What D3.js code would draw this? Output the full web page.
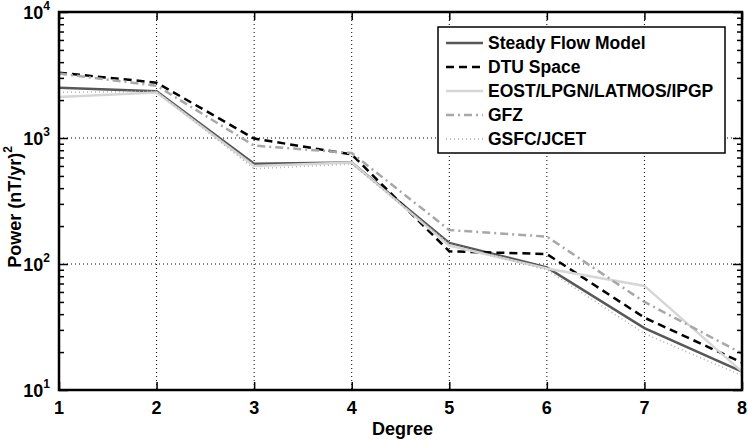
<!DOCTYPE html>
<html>
<head>
<meta charset="utf-8">
<script src="https://cdn.jsdelivr.net/npm/d3@7"></script>
<style>
  body { margin: 0; background: #fff; }
  svg { display: block; font-family: "Liberation Sans", Arial, Helvetica, sans-serif; font-weight: bold; }
</style>
</head>
<body>
<svg id="chart" width="748" height="440"></svg>
<script>
// spectra per degree
const degrees = [1, 2, 3, 4, 5, 6, 7, 8];
const steadyFlow = [2500, 2350, 625, 640, 147, 94, 31, 14];
const dtuSpace = [3300, 2750, 990, 740, 126, 120, 37.5, 16.5];
const eost = [2120, 2300, 600, 640, 140, 92, 67, 14];
const gfz = [3250, 2600, 870, 760, 186, 165, 50, 19.5];
const gsfc = [2300, 2350, 570, 620, 145, 90, 28, 13];

const seriesNames = ['Steady Flow Model', 'DTU Space', 'EOST/LPGN/LATMOS/IPGP', 'GFZ', 'GSFC/JCET'];
const seriesValues = [steadyFlow, dtuSpace, eost, gfz, gsfc];
const yMajor = [10, 100, 1000, 10000];

const STYLE = [
  { stroke: '#575757', width: 2.5, dash: null },
  { stroke: '#000000', width: 2.5, dash: '8,5' },
  { stroke: '#d6d6d6', width: 2.5, dash: null },
  { stroke: '#a8a8a8', width: 2.5, dash: '8,4,2,4' },
  { stroke: '#b0b0b0', width: 1.5, dash: '1,3' },
];

const svg = d3.select('#chart');
const L = 59, R = 742, T = 12, B = 390;

const x = d3.scaleLinear().domain([1, 8]).range([L, R]);
const y = d3.scaleLog().domain([10, 10000]).range([B, T]);

const minor = [];
for (let e = 1; e < 4; e++) for (let m = 2; m <= 9; m++) minor.push(m * Math.pow(10, e));

// grid
const grid = svg.append('g').attr('stroke', '#000').attr('stroke-width', 1).attr('stroke-dasharray', '1,3');
degrees.slice(1, -1).forEach(d => {
  grid.append('line').attr('x1', x(d)).attr('x2', x(d)).attr('y1', T).attr('y2', B);
});
yMajor.slice(1, -1).forEach(v => {
  grid.append('line').attr('x1', L).attr('x2', R).attr('y1', y(v)).attr('y2', y(v));
});

// series
const line = d3.line().x((d, i) => x(degrees[i])).y(d => y(d));
seriesValues.forEach((vals, i) => {
  const s = STYLE[i];
  svg.append('path')
    .datum(vals)
    .attr('d', line)
    .attr('fill', 'none')
    .attr('stroke', s.stroke)
    .attr('stroke-width', s.width)
    .attr('stroke-dasharray', s.dash);
});

// axes with inward ticks
function styleAxis(g) {
  g.selectAll('path').remove();
  g.selectAll('line').attr('stroke', '#000').attr('stroke-width', 1.5);
  g.selectAll('text').remove();
}
svg.append('g').attr('transform', `translate(0,${B})`)
  .call(d3.axisTop(x).tickValues(degrees).tickSize(8)).call(styleAxis);
svg.append('g').attr('transform', `translate(0,${T})`)
  .call(d3.axisBottom(x).tickValues(degrees).tickSize(8)).call(styleAxis);
svg.append('g').attr('transform', `translate(${L},0)`)
  .call(d3.axisRight(y).tickValues(minor).tickSize(5)).call(styleAxis);
svg.append('g').attr('transform', `translate(${R},0)`)
  .call(d3.axisLeft(y).tickValues(minor).tickSize(5)).call(styleAxis);
svg.append('g').attr('transform', `translate(${L},0)`)
  .call(d3.axisRight(y).tickValues(yMajor).tickSize(9)).call(styleAxis);
svg.append('g').attr('transform', `translate(${R},0)`)
  .call(d3.axisLeft(y).tickValues(yMajor).tickSize(9)).call(styleAxis);

// frame
svg.append('rect')
  .attr('x', L).attr('y', T).attr('width', R - L).attr('height', B - T)
  .attr('fill', 'none').attr('stroke', '#000').attr('stroke-width', 2.5);

// tick labels
degrees.forEach(d => {
  svg.append('text').attr('x', x(d)).attr('y', B + 24)
    .attr('text-anchor', 'middle').attr('font-size', 18).text(d);
});
yMajor.forEach(v => {
  const t = svg.append('text').attr('x', 50).attr('y', y(v) + 7)
    .attr('text-anchor', 'end').attr('font-size', 18);
  t.append('tspan').text('10');
  t.append('tspan').attr('dy', -9).attr('font-size', 12).text(Math.round(Math.log10(v)));
});

// axis titles
svg.append('text').attr('x', (L + R) / 2 + 2).attr('y', 435)
  .attr('text-anchor', 'middle').attr('font-size', 18).text('Degree');
const yl = svg.append('text')
  .attr('transform', `translate(21,${(T + B) / 2 + 6}) rotate(-90)`)
  .attr('text-anchor', 'middle').attr('font-size', 18);
yl.append('tspan').text('Power (nT/yr)');
yl.append('tspan').attr('dy', -9).attr('font-size', 12).text('2');

// legend
const lg = svg.append('g').attr('transform', 'translate(438,27)');
lg.append('rect').attr('width', 287).attr('height', 126)
  .attr('fill', '#fff').attr('stroke', '#000').attr('stroke-width', 1.5);
seriesNames.forEach((name, i) => {
  const s = STYLE[i];
  const yy = 16 + i * 24;
  lg.append('line').attr('x1', 8).attr('x2', 45).attr('y1', yy).attr('y2', yy)
    .attr('stroke', s.stroke).attr('stroke-width', s.width).attr('stroke-dasharray', s.dash);
  lg.append('text').attr('x', 50).attr('y', yy + 6).attr('font-size', 17.5).text(name);
});
</script>
</body>
</html>
